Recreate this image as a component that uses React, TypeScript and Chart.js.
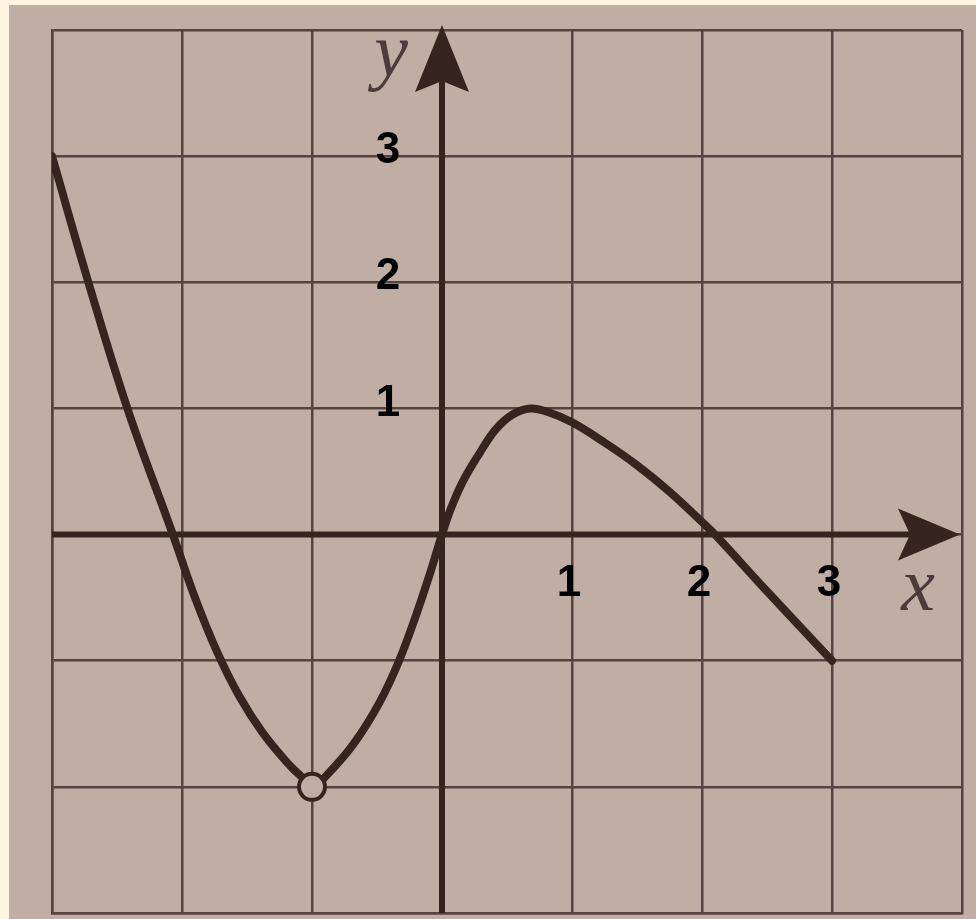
import React, { useEffect, useRef } from "react";
import { Chart, registerables } from "chart.js";

Chart.register(...registerables);

// Curve of the function
const curveX = [-3, -2.72, -2.42, -2.07, -1.9, -1.73, -1.56, -1.38, -1.18, -1.08, -1, -0.88, -0.68, -0.48, -0.33, -0.2, -0.09, 0, 0.07, 0.16, 0.28, 0.41, 0.54, 0.68, 0.82, 1.0, 1.25, 1.5, 1.75, 2.0, 2.1, 2.5, 3];
const curveY = [3, 2, 1, 0, -0.5, -0.93, -1.28, -1.57, -1.82, -1.92, -2, -1.9, -1.66, -1.33, -1.0, -0.64, -0.3, 0, 0.21, 0.42, 0.63, 0.83, 0.95, 1.0, 0.97, 0.89, 0.73, 0.55, 0.34, 0.1, 0, -0.45, -1];

// Open (excluded) point
const holeX = [-1];
const holeY = [-2];

// Axis number labels
const xTickLabels = [1, 2, 3];
const yTickLabels = [1, 2, 3];

const X_MIN = -3;
const X_MAX = 4;
const Y_MIN = -3;
const Y_MAX = 4;

const PAPER = "#C0ADA3";
const CREAM = "#FFF5E0";
const INK = "#36241F";
const GRID = "#554341";
const LETTER = "#4B3B3A";

const overlayPlugin = {
  id: "overlay",
  beforeDatasetsDraw(chart: any) {
    const { ctx, scales, chartArea } = chart;
    const xs = scales.x;
    const ys = scales.y;
    const x0 = xs.getPixelForValue(0);
    const y0 = ys.getPixelForValue(0);
    ctx.save();
    ctx.strokeStyle = INK;
    ctx.fillStyle = INK;
    ctx.lineWidth = 6;
    // x axis
    const xTip = chartArea.right - 2;
    ctx.beginPath();
    ctx.moveTo(chartArea.left, y0);
    ctx.lineTo(xTip - 40, y0);
    ctx.stroke();
    ctx.beginPath();
    ctx.moveTo(xTip, y0);
    ctx.lineTo(xTip - 62, y0 - 26);
    ctx.lineTo(xTip - 50, y0);
    ctx.lineTo(xTip - 62, y0 + 26);
    ctx.closePath();
    ctx.fill();
    // y axis
    const yTip = chartArea.top - 5;
    ctx.beginPath();
    ctx.moveTo(x0, chartArea.bottom);
    ctx.lineTo(x0, yTip + 40);
    ctx.stroke();
    ctx.beginPath();
    ctx.moveTo(x0, yTip);
    ctx.lineTo(x0 - 27, yTip + 67);
    ctx.lineTo(x0, yTip + 56);
    ctx.lineTo(x0 + 27, yTip + 67);
    ctx.closePath();
    ctx.fill();
    ctx.restore();
  },
  afterDatasetsDraw(chart: any) {
    const { ctx, scales } = chart;
    const xs = scales.x;
    const ys = scales.y;
    const x0 = xs.getPixelForValue(0);
    const y0 = ys.getPixelForValue(0);
    ctx.save();
    ctx.fillStyle = "#000000";
    ctx.font = "bold 44px 'Liberation Sans', Arial, sans-serif";
    ctx.textAlign = "center";
    ctx.textBaseline = "middle";
    xTickLabels.forEach((v) => {
      ctx.fillText(String(v), xs.getPixelForValue(v) - 3, y0 + 49);
    });
    yTickLabels.forEach((v) => {
      ctx.fillText(String(v), x0 - 54, ys.getPixelForValue(v) - 5);
    });
    ctx.fillStyle = LETTER;
    ctx.font = "italic 76px 'Liberation Serif', 'Times New Roman', serif";
    ctx.fillText("y", x0 - 51, ys.getPixelForValue(Y_MAX) + 26);
    ctx.fillText("x", xs.getPixelForValue(X_MAX) - 44, y0 + 55);
    ctx.restore();
  },
};

export default function App() {
  const ref = useRef<HTMLCanvasElement | null>(null);
  useEffect(() => {
    if (!ref.current) return;
    const curve = curveX.map((x, i) => ({ x, y: curveY[i] }));
    const hole = holeX.map((x, i) => ({ x, y: holeY[i] }));
    const axisCommon = {
      type: "linear" as const,
      ticks: { stepSize: 1, display: false },
      grid: { color: GRID, lineWidth: 2.5, drawTicks: false },
      border: { color: GRID, width: 2.5 },
    };
    const chart = new Chart(ref.current, {
      type: "scatter",
      data: {
        datasets: [
          {
            data: hole,
            pointRadius: 13,
            pointHoverRadius: 13,
            pointBorderWidth: 4,
            pointBackgroundColor: PAPER,
            pointBorderColor: INK,
            showLine: false,
          },
          {
            data: curve,
            showLine: true,
            borderColor: INK,
            borderWidth: 8,
            pointRadius: 0,
            pointHoverRadius: 0,
            tension: 0.4,
            borderCapStyle: "round",
            borderJoinStyle: "round",
          } as any,
        ],
      },
      options: {
        responsive: false,
        animation: false,
        events: [],
        layout: { autoPadding: false, padding: { left: 52, right: 14, top: 30, bottom: 6 } },
        plugins: { legend: { display: false }, tooltip: { enabled: false } },
        scales: {
          x: { ...axisCommon, min: X_MIN, max: X_MAX },
          y: { ...axisCommon, min: Y_MIN, max: Y_MAX },
        } as any,
      },
      plugins: [overlayPlugin],
    });
    return () => chart.destroy();
  }, []);

  return (
    <div style={{ position: "fixed", left: 0, top: 0, width: 976, height: 919, background: CREAM, overflow: "hidden" }}>
      <div style={{ position: "absolute", left: 9, top: 5, width: 967, height: 914, background: PAPER }} />
      <canvas ref={ref} width={976} height={919} style={{ position: "absolute", left: 0, top: 0, width: 976, height: 919 }} />
    </div>
  );
}
